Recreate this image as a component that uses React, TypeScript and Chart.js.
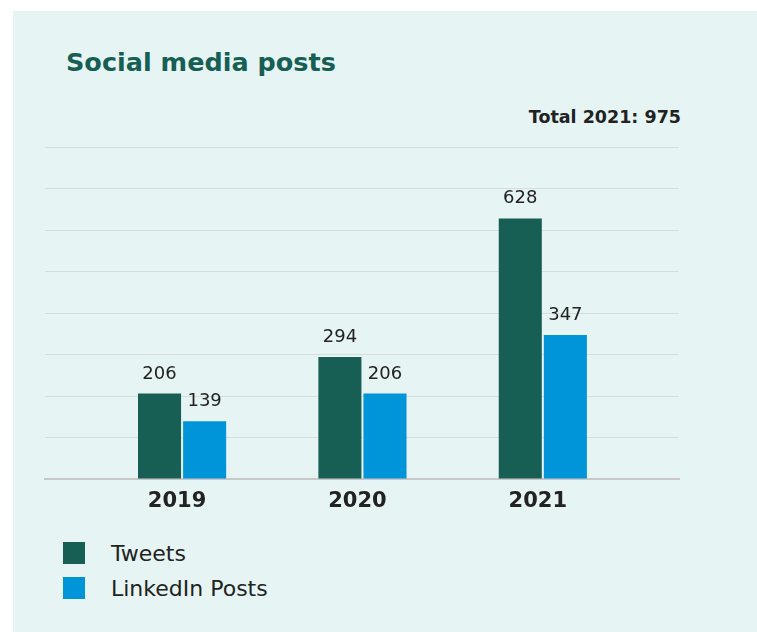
import React, { useEffect, useRef } from "react";
import { Chart, registerables } from "chart.js";

Chart.register(...registerables);

const years = ["2019", "2020", "2021"];
const tweets = [206, 294, 628];
const linkedin = [139, 206, 347];
const seriesNames = ["Tweets", "LinkedIn Posts"];
const seriesColors = ["#175e54", "#0095d9"];
const titleText = "Social media posts";
const totalText = "Total 2021: 975";
const yTicks = { min: 0, max: 800, step: 100 };

const FONT = "'DejaVu Sans', Verdana, sans-serif";

const valueLabels = {
  id: "valueLabels",
  afterDatasetsDraw(chart: any) {
    const ctx = chart.ctx;
    ctx.save();
    ctx.font = `18px ${FONT}`;
    ctx.fillStyle = "#222";
    ctx.textAlign = "center";
    ctx.textBaseline = "alphabetic";
    chart.data.datasets.forEach((ds: any, di: number) => {
      const meta = chart.getDatasetMeta(di);
      meta.data.forEach((el: any, i: number) => {
        const v = ds.data[i].y;
        ctx.fillText(String(v), el.x, el.y - 15);
      });
    });
    ctx.restore();
  },
};

export default function App() {
  const ref = useRef<HTMLCanvasElement>(null);
  useEffect(() => {
    const chart = new Chart(ref.current!, {
      type: "bar",
      data: {
        datasets: [tweets, linkedin].map((vals, si) => ({
          label: seriesNames[si],
          data: vals.map((y, i) => ({ x: i + 1, y })),
          backgroundColor: seriesColors[si],
          categoryPercentage: 0.5,
          barPercentage: 0.955,
        })),
      },
      options: {
        animation: false,
        responsive: false,
        maintainAspectRatio: false,
        layout: { padding: { left: 32, right: 78, top: 17, bottom: 0 } },
        plugins: {
          legend: { display: false },
          tooltip: { enabled: false },
        },
        scales: {
          x: {
            type: "linear",
            offset: false,
            bounds: "ticks",
            min: 0.24,
            max: 3.755,
            grid: { display: false, drawTicks: false, offset: false },
            border: { display: true, color: "#c8c8c8", width: 2 },
            ticks: {
              stepSize: 1,
              includeBounds: false,
              padding: 10,
              labelOffset: -5,
              color: "#222",
              font: { family: FONT, size: 21, weight: "bold" },
              callback: (v: any) => (Number.isInteger(v) && years[v - 1]) || "",
              maxRotation: 0,
            },
            afterFit: (s: any) => {
              s.height = 34;
            },
          },
          y: {
            min: yTicks.min,
            max: yTicks.max,
            ticks: { display: false, stepSize: yTicks.step },
            grid: { color: "#d6dedd", lineWidth: 1, drawTicks: false },
            border: { display: false },
            afterFit: (s: any) => {
              s.width = 0;
            },
          },
        },
      },
      plugins: [valueLabels],
    } as any);
    return () => chart.destroy();
  }, []);

  return (
    <div style={{ position: "absolute", left: 0, top: 0, width: 757, height: 632, overflow: "hidden", fontFamily: FONT }}>
      <div style={{ position: "absolute", left: 13, top: 11, width: 744, height: 621, background: "#e6f5f3" }} />
      <div
        style={{
          position: "absolute",
          left: 66,
          top: 50,
          fontSize: 25.5,
          lineHeight: "25px",
          fontWeight: "bold",
          color: "#175e54",
          whiteSpace: "nowrap",
        }}
      >
        {titleText}
      </div>
      <div
        style={{
          position: "absolute",
          left: 380,
          width: 301,
          top: 109,
          textAlign: "right",
          fontSize: 17.5,
          lineHeight: "17px",
          fontWeight: "bold",
          color: "#222",
          whiteSpace: "nowrap",
        }}
      >
        {totalText}
      </div>
      <canvas ref={ref} width={744} height={383} style={{ position: "absolute", left: 13, top: 130, width: 744, height: 383 }} />
      {seriesNames.map((name, i) => (
        <React.Fragment key={name}>
          <div
            style={{
              position: "absolute",
              left: 63,
              top: 542 + i * 35,
              width: 22,
              height: 22,
              background: seriesColors[i],
            }}
          />
          <div
            style={{
              position: "absolute",
              left: 111,
              top: 543 + i * 35,
              fontSize: 22,
              lineHeight: "22px",
              color: "#222",
              whiteSpace: "nowrap",
            }}
          >
            {name}
          </div>
        </React.Fragment>
      ))}
    </div>
  );
}
